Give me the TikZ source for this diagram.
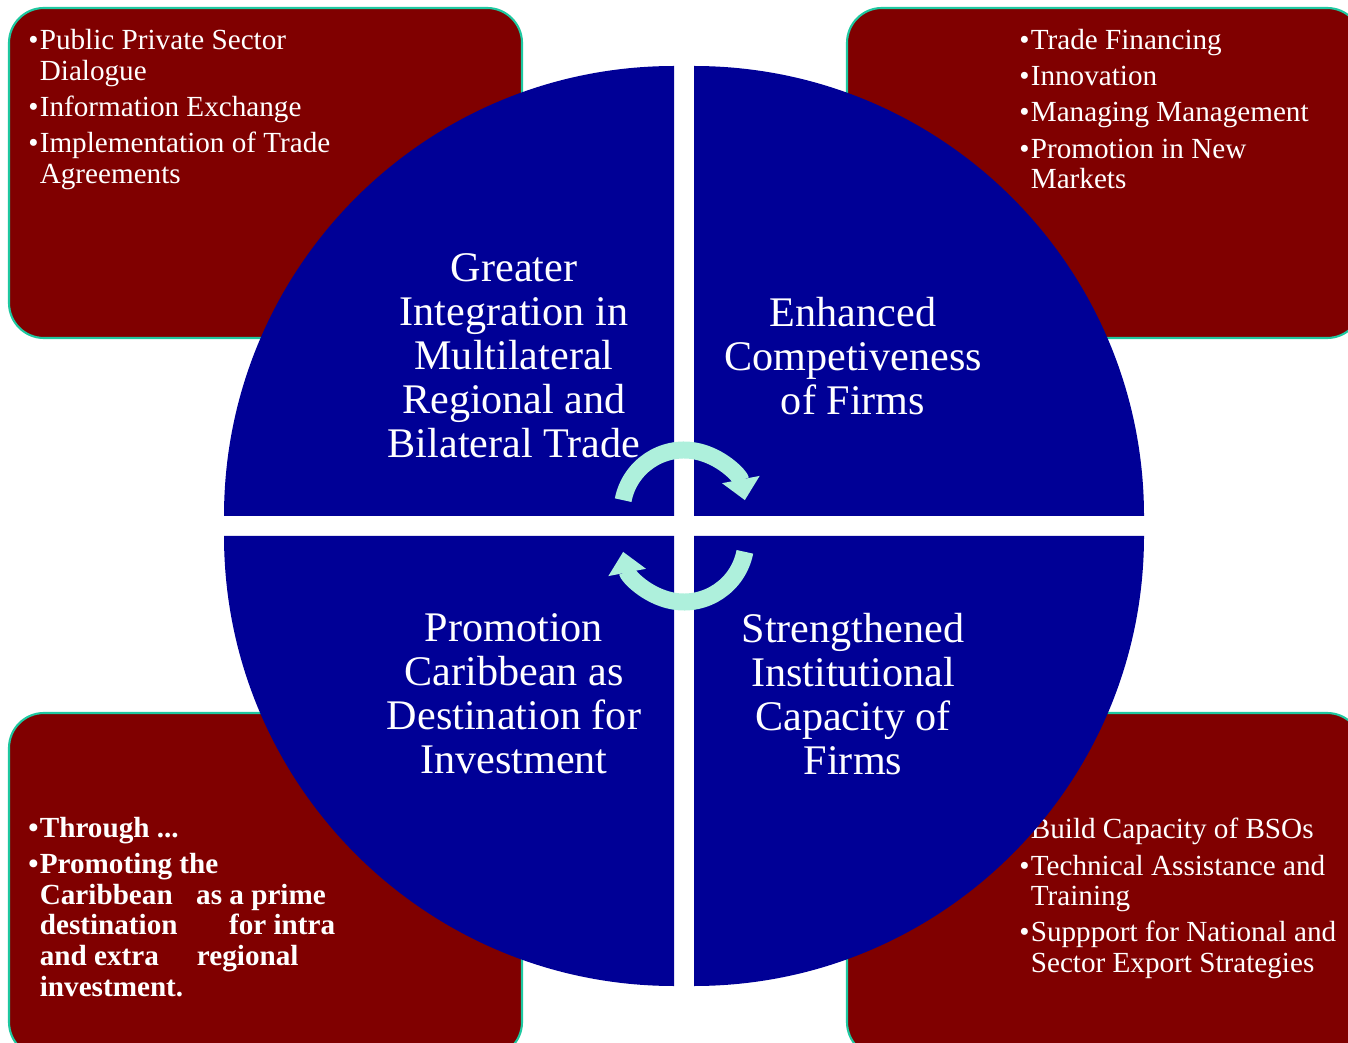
\documentclass[tikz,border=0pt]{standalone}
\usepackage{fontspec}
\setmainfont{Liberation Serif}
\usetikzlibrary{arrows.meta}
\definecolor{boxred}{RGB}{128,0,0}
\definecolor{boxline}{RGB}{30,200,160}
\definecolor{quadblue}{RGB}{0,0,150}
\definecolor{turnmint}{RGB}{174,240,220}
\newcommand{\bl}{\makebox[0.23cm][l]{\textbullet}}
\newcommand{\ind}{\hspace*{0.23cm}}

\begin{document}
\begin{tikzpicture}[
        x=0.02cm, y=0.02cm,
        corner/.style={draw=boxline, line width=1.2pt, fill=boxred, rounded corners=0.7cm},
        quad/.style={fill=quadblue},
        list/.style={anchor=north west, inner sep=0pt, align=left, text=white, font=\fontsize{16.6}{17.4}\selectfont},
        title/.style={align=center, inner sep=0pt, text=white, font=\fontsize{24}{25}\selectfont},
        turn/.style={draw=turnmint, line width=0.34cm, -{Triangle[width=0.74cm,length=0.42cm]}},
    ]
    \useasboundingbox (0,0) rectangle (1348,1042);
    \clip (0,0) rectangle (1348,1042);

    % Corner boxes
    \draw[corner] (9,704) rectangle (522,1034);
    \draw[corner] (847,704) rectangle (1362,1034);
    \draw[corner] (9,-15) rectangle (522,329);
    \draw[corner] (847,-15) rectangle (1362,329);

    \node[list] (tl) at (28,1013) {\bl Public Private Sector\\ \ind Dialogue\\[3.2pt]
        \bl Information Exchange\\[3.2pt]
        \bl Implementation of Trade\\ \ind Agreements};
    \node[list] (tr) at (1019,1013) {\bl Trade Financing\\[3.2pt]
        \bl Innovation\\[3.2pt]
        \bl Managing Management\\[3.2pt]
        \bl Promotion in New\\ \ind Markets};
    \node[list, font=\fontsize{16.6}{17.4}\selectfont\bfseries] (bl) at (28,225) {\bl Through ...\\[3.2pt]
        \bl Promoting the\\
        \ind Caribbean\hspace{0.47cm}as a prime\\
        \ind destination\hspace{1.03cm}for intra\\
        \ind and extra\hspace{0.76cm}regional\\
        \ind investment.};
    \node[list] (br) at (1019,224) {\bl Build Capacity of BSOs\\[3.2pt]
        \bl Technical Assistance and\\ \ind Training\\[3.2pt]
        \bl Suppport for National and\\ \ind Sector Export Strategies};

    % Quadrants
    \fill[quad] (674,526) -- (224,526) arc[start angle=180, end angle=90, radius=450] -- cycle;
    \fill[quad] (694,526) -- (694,976) arc[start angle=90, end angle=0, radius=450] -- cycle;
    \fill[quad] (674,506) -- (674,56) arc[start angle=270, end angle=180, radius=450] -- cycle;
    \fill[quad] (694,506) -- (1144,506) arc[start angle=0, end angle=-90, radius=450] -- cycle;

    \node[title] (q1) at (514,686) {Greater\\Integration in\\Multilateral\\Regional and\\Bilateral Trade};
    \node[title] (q2) at (853,686) {Enhanced\\Competiveness\\of Firms};
    \node[title] (q3) at (514,348) {Promotion\\Caribbean as\\Destination for\\Investment};
    \node[title] (q4) at (853,348) {Strengthened\\Institutional\\Capacity of\\Firms};

    % Cycle arrows
    \coordinate (up) at (684,530);
    \coordinate (down) at (684,502);
    \draw[turn] ([shift={(169:62)}]up) arc[start angle=169, end angle=11, radius=62];
    \draw[turn] ([shift={(-11:62)}]down) arc[start angle=-11, end angle=-169, radius=62];

\end{tikzpicture}
\end{document}
